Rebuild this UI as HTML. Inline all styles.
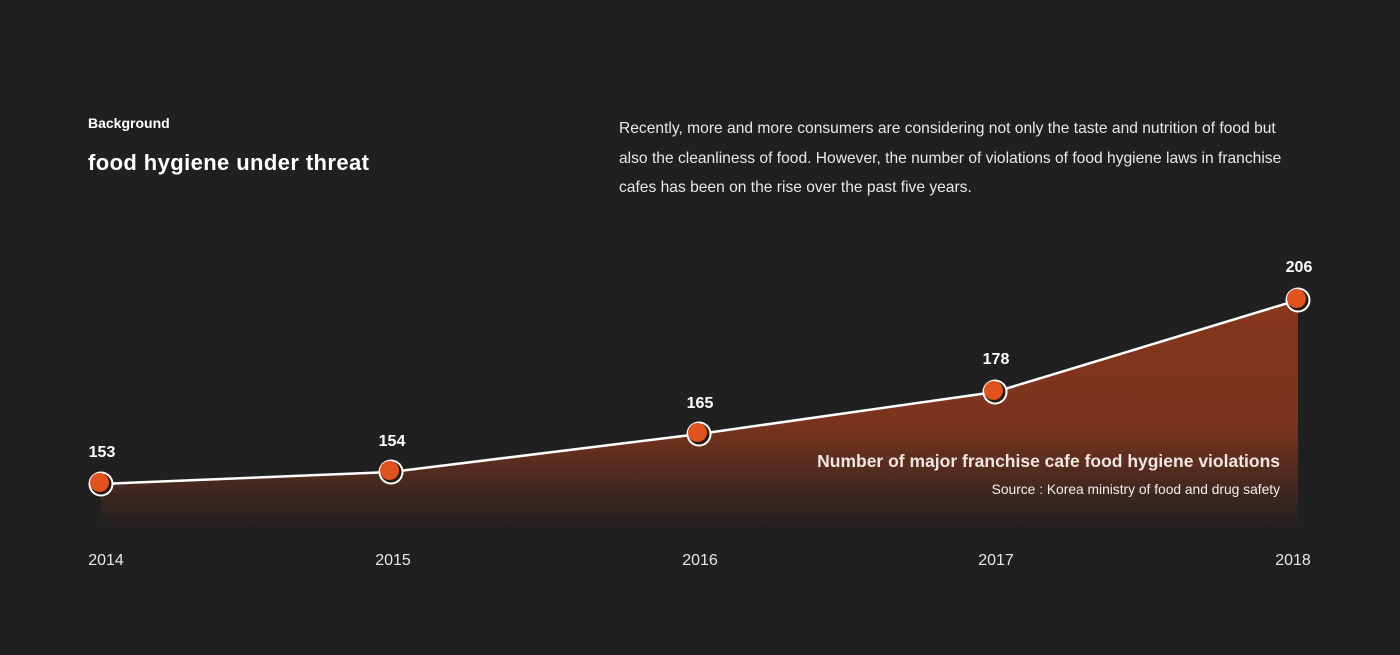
<!DOCTYPE html>
<html><head><meta charset="utf-8"><style>
body{margin:0;background:#202020;width:1400px;height:655px;overflow:hidden;font-family:"Liberation Sans",sans-serif;color:#fff;position:relative}
.a{position:absolute;white-space:nowrap}
</style></head><body>
<div class="a" style="left:88px;top:115px;font-size:14px;font-weight:bold">Background</div>
<div class="a" style="left:88px;top:150px;font-size:22px;font-weight:bold;letter-spacing:0.4px">food hygiene under threat</div>
<div class="a" style="left:619px;top:114px;font-size:15.6px;line-height:29.5px;color:#e8e8e8;white-space:normal;width:672px">Recently, more and more consumers are considering not only the taste and nutrition of food but also the cleanliness of food. However, the number of violations of food hygiene laws in franchise cafes has been on the rise over the past five years.</div>
<svg class="a" style="left:0;top:0" width="1400" height="655">
<defs>
<linearGradient id="g" x1="0" y1="300" x2="0" y2="528" gradientUnits="userSpaceOnUse">
<stop offset="0" stop-color="#87371c"/><stop offset="0.55" stop-color="#7a341e"/><stop offset="1" stop-color="#202020"/></linearGradient>
</defs>
<polygon points="101,484 391,472 699,434 995,392 1298,300 1298,528 101,528" fill="url(#g)"/>
<polyline points="101,484 391,472 699,434 995,392 1298,300" fill="none" stroke="#fff" stroke-width="2.5"/>
<g font-family="Liberation Sans,sans-serif" font-size="16" font-weight="bold" fill="#fff" text-anchor="middle">
<text x="102" y="457">153</text><text x="392" y="446">154</text><text x="700" y="408">165</text><text x="996" y="364">178</text><text x="1299" y="272">206</text></g>
<g font-family="Liberation Sans,sans-serif" font-size="16" fill="#e8e8e8" text-anchor="middle">
<text x="106" y="565">2014</text><text x="393" y="565">2015</text><text x="700" y="565">2016</text><text x="996" y="565">2017</text><text x="1293" y="565">2018</text></g>
<g>
<g transform="translate(101,484)"><circle r="12.5" fill="#fff"/><circle r="10.5" fill="#2a1a14"/><circle cx="-1.5" cy="-1.5" r="9.5" fill="#e0531f"/></g>
<g transform="translate(391,472)"><circle r="12.5" fill="#fff"/><circle r="10.5" fill="#2a1a14"/><circle cx="-1.5" cy="-1.5" r="9.5" fill="#e0531f"/></g>
<g transform="translate(699,434)"><circle r="12.5" fill="#fff"/><circle r="10.5" fill="#2a1a14"/><circle cx="-1.5" cy="-1.5" r="9.5" fill="#e0531f"/></g>
<g transform="translate(995,392)"><circle r="12.5" fill="#fff"/><circle r="10.5" fill="#2a1a14"/><circle cx="-1.5" cy="-1.5" r="9.5" fill="#e0531f"/></g>
<g transform="translate(1298,300)"><circle r="12.5" fill="#fff"/><circle r="10.5" fill="#2a1a14"/><circle cx="-1.5" cy="-1.5" r="9.5" fill="#e0531f"/></g>
</g>
<text x="1280" y="467" text-anchor="end" font-family="Liberation Sans,sans-serif" font-size="17.5" font-weight="bold" fill="#f0e6e0">Number of major franchise cafe food hygiene violations</text>
<text x="1280" y="494" text-anchor="end" font-family="Liberation Sans,sans-serif" font-size="13.8" fill="#eee">Source : Korea ministry of food and drug safety</text>
</svg>
</body></html>
